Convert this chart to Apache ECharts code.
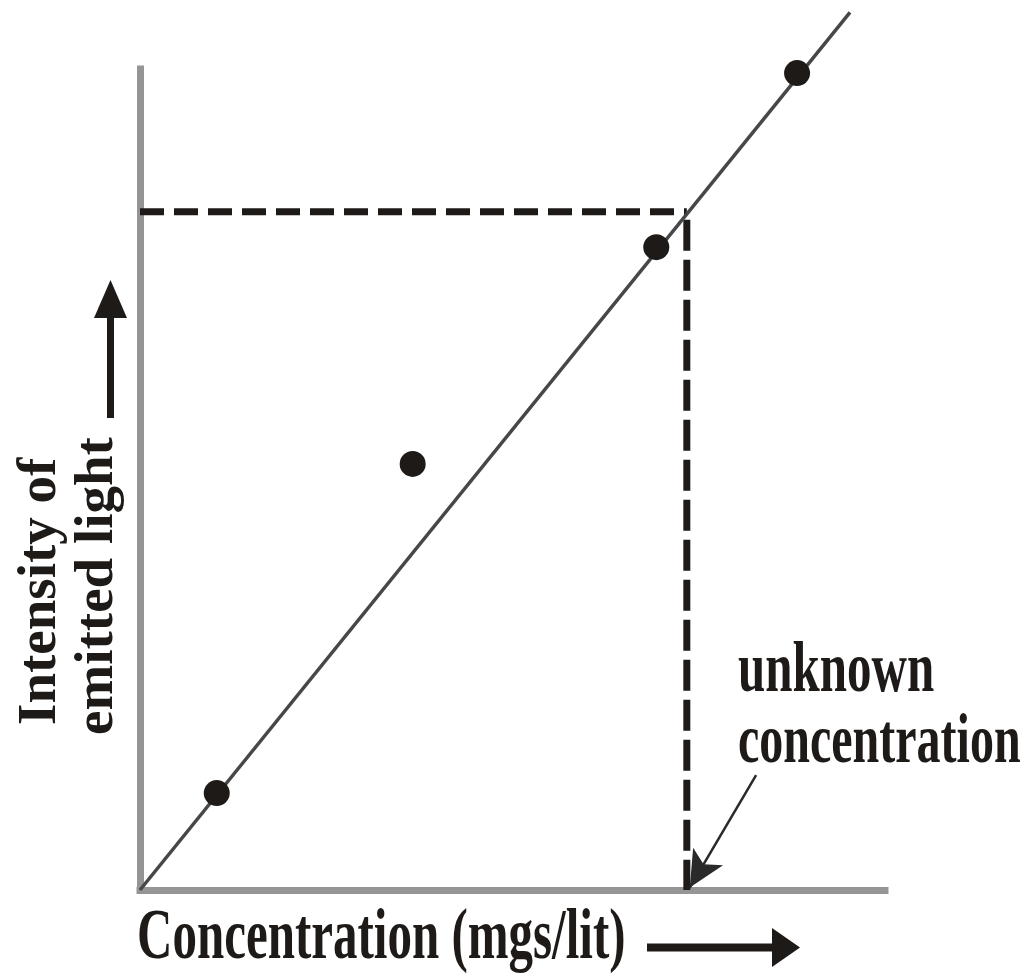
<!DOCTYPE html>
<html>
<head>
<meta charset="utf-8">
<script src="https://cdn.jsdelivr.net/npm/echarts@6/dist/echarts.min.js"></script>
<style>
html, body { margin: 0; padding: 0; background: #fff; }
#chart { width: 1031px; height: 975px; }
</style>
</head>
<body>
<div id="chart"></div>
<script>
// calibration standards (concentration, intensity)
var standards = [[1.03, 1.18], [3.66, 5.19], [6.93, 7.83], [8.82, 9.95]];
// best-fit line ends
var fitLine = [[0, 0], [9.53, 10.69]];
// reading for the unknown sample
var unknown = [7.34, 8.26];
// pointer from the note to the x axis
var arrowFrom = [8.27, 1.40];
var arrowTo = [7.38, 0.03];

var ink = '#1e1a18';
var serif = '"Liberation Serif", "Times New Roman", serif';

var myChart = echarts.init(document.getElementById('chart'));

var option = {
    animation: false,
    backgroundColor: '#fff',
    grid: { left: 140, top: 69, width: 745, bottom: 85 },
    xAxis: {
        type: 'value', min: 0, max: 10, offset: 4,
        axisLine: { lineStyle: { color: '#959595', width: 7, cap: 'square' } },
        axisTick: { show: false }, axisLabel: { show: false }, splitLine: { show: false }
    },
    yAxis: {
        type: 'value', min: 0, max: 10,
        axisLine: { lineStyle: { color: '#959595', width: 7, cap: 'square' } },
        axisTick: { show: false }, axisLabel: { show: false }, splitLine: { show: false }
    },
    series: [
        {
            type: 'line',
            data: [[0, unknown[1]], unknown],
            symbol: 'none',
            lineStyle: { color: ink, width: 7, type: [24, 10] },
            z: 2
        },
        {
            type: 'line',
            data: [unknown, [unknown[0], 0]],
            symbol: 'none',
            lineStyle: { color: ink, width: 7, type: [31, 9], dashOffset: -8 },
            z: 2
        },
        {
            type: 'line',
            data: fitLine,
            symbol: 'none',
            clip: false,
            lineStyle: { color: '#474747', width: 3.5 },
            z: 3,
            markLine: {
                silent: true,
                symbol: ['none', 'arrow'],
                symbolSize: [26, 36],
                label: { show: false },
                lineStyle: { color: '#2a2a2a', width: 2.5, type: 'solid' },
                data: [[{ coord: arrowFrom }, { coord: arrowTo }]]
            }
        },
        {
            type: 'scatter',
            data: standards,
            symbol: 'circle',
            symbolSize: 26,
            itemStyle: { color: ink, opacity: 1 },
            z: 4
        }
    ],
    graphic: [
        {
            type: 'text', x: 137, y: 939, scaleY: 1.47,
            style: { text: 'Concentration (mgs/lit)', font: 'bold 49px ' + serif, fill: ink, align: 'left', verticalAlign: 'middle' }
        },
        { type: 'rect', shape: { x: 647, y: 943.5, width: 127, height: 8 }, style: { fill: ink } },
        { type: 'polygon', shape: { points: [[772, 928], [772, 967], [800, 947.5]] }, style: { fill: ink } },
        {
            type: 'text', x: 41, y: 725, rotation: Math.PI / 2,
            style: { text: 'Intensity of', font: 'bold 55px ' + serif, fill: ink, align: 'left', verticalAlign: 'middle' }
        },
        {
            type: 'text', x: 98, y: 735, rotation: Math.PI / 2,
            style: { text: 'emitted light', font: 'bold 55px ' + serif, fill: ink, align: 'left', verticalAlign: 'middle' }
        },
        { type: 'rect', shape: { x: 107, y: 316, width: 7, height: 102 }, style: { fill: ink } },
        { type: 'polygon', shape: { points: [[94, 318], [127, 318], [110.5, 280]] }, style: { fill: ink } },
        {
            type: 'text', x: 738, y: 673, scaleY: 1.45,
            style: { text: 'unknown', font: 'bold 49px ' + serif, fill: ink, align: 'left', verticalAlign: 'middle' }
        },
        {
            type: 'text', x: 738, y: 744, scaleY: 1.45,
            style: { text: 'concentration', font: 'bold 48px ' + serif, fill: ink, align: 'left', verticalAlign: 'middle' }
        }
    ]
};

myChart.setOption(option);
</script>
</body>
</html>
